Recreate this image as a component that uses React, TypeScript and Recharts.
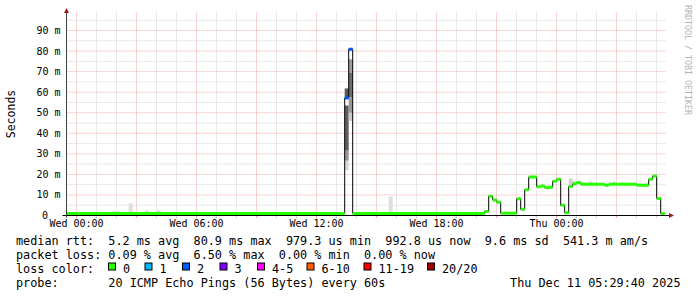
import React from 'react';
import { ComposedChart, Line, XAxis, YAxis, CartesianGrid, ReferenceArea } from 'recharts';

// x values are hours since Wed 00:00, y values are milliseconds
// median rtt steps, one entry per change (bins are 12 min wide)
const stepStart = [
  -0.5, 13.41, 13.61, 13.81, 20.41, 20.61, 20.81, 21.01, 21.21, 22.01, 22.21,
  22.41, 22.61, 23.01, 23.21, 23.41, 23.61, 23.81, 24.01, 24.21, 24.41, 24.61,
  24.81, 25.01, 25.21, 26.41, 26.61, 28.01, 28.61, 28.81, 29.01, 29.21,
];
const medianMs = [
  1.0, 57.2, 80.9, 1.0, 2.0, 9.4, 7.6, 6.5, 1.1, 8.1, 3.0,
  12.5, 18.7, 14.0, 14.3, 13.5, 13.8, 16.7, 17.6, 5.0, 1.3, 14.1,
  15.4, 16.1, 15.2, 14.7, 15.2, 14.7, 17.6, 19.2, 8.3, 0.9928,
];
// index into lossLabels for each step
const lossLevel = [
  0, 2, 2, 0, 0, 0, 0, 0, 0, 0, 0,
  0, 0, 0, 0, 0, 0, 0, 0, 0, 0, 0,
  0, 0, 0, 0, 0, 0, 0, 0, 0, 0,
];
const lastSample = 29.41;

// smoke bands: from, to, low, high, ping density (0..1)
const smokeFrom = [1.81, 2.61, 3.41, 4.01, 15.61, 13.41, 13.41, 13.41, 13.41, 13.61, 13.61, 13.61, 13.61, 24.61, 24.81, 25.21, 25.61, 26.81, 27.21, 28.41];
const smokeTo = [2.21, 2.81, 3.61, 4.21, 15.81, 13.61, 13.61, 13.61, 13.61, 13.81, 13.81, 13.81, 13.81, 24.81, 25.01, 25.41, 25.81, 27.01, 27.41, 28.61];
const smokeLow = [1.0, 1.0, 1.0, 1.0, 1.0, 22.0, 26.7, 31.6, 57.5, 46.0, 50.0, 57.5, 69.6, 14.0, 15.0, 15.0, 15.0, 15.0, 15.0, 14.5];
const smokeHigh = [2.1, 5.9, 2.6, 2.6, 9.2, 26.7, 31.6, 53.5, 61.8, 50.0, 57.5, 69.6, 76.0, 18.0, 17.0, 16.2, 16.5, 16.5, 16.2, 15.9];
const smokeDensity = [0, 0, 0, 0, 0, 0.05, 0.5, 0.9, 0.95, 0.15, 0.5, 0.8, 0.45, 0.1, 0, 0, 0, 0, 0, 0];

const lossLabels = ['0', '1', '2', '3', '4-5', '6-10', '11-19', '20/20'];
const lossColors = ['#26ff00', '#00b8ff', '#0059ff', '#7e00ff', '#ff00ff', '#ff5e00', '#ff0000', '#a10000'];

const yTicks = [0, 10, 20, 30, 40, 50, 60, 70, 80, 90];
const yMinor = [5, 15, 25, 35, 45, 55, 65, 75, 85, 95];
const hours = Array.from({ length: 30 }, (_, i) => i);
const hourMajor = hours.filter((h) => h % 3 === 0);
const hourMinor = hours.filter((h) => h % 3 !== 0);
const dayNames = ['Wed', 'Thu'];

const statsLine = 'median rtt:  5.2 ms avg  80.9 ms max  979.3 us min  992.8 us now  9.6 ms sd  541.3 m am/s';
const lossLine = 'packet loss: 0.09 % avg  6.50 % max  0.00 % min  0.00 % now';
const probeLine = 'probe:       20 ICMP Echo Pings (56 Bytes) every 60s';
const stampText = 'Thu Dec 11 05:29:40 2025';

const legendBoxX = [108.5, 145, 182.5, 220, 257.5, 307, 364, 427.5];

const MONO = '"DejaVu Sans Mono", monospace';
const GRID = '#d2d2d2';
const MGRID = '#f0a8a8';
const PRE = { whiteSpace: 'pre' as const };

const stepData = [
  ...stepStart.map((h, i) => ({ h, v: medianMs[i] })),
  { h: lastSample, v: medianMs[medianMs.length - 1] },
];

// horizontal pieces coloured by loss, broken by nulls so no vertical joins
const levelData = (lvl: number) => {
  const pts: { h: number; v: number | null }[] = [];
  stepStart.forEach((s, i) => {
    if (lossLevel[i] !== lvl) return;
    const e = i + 1 < stepStart.length ? stepStart[i + 1] : lastSample;
    pts.push({ h: s, v: medianMs[i] }, { h: e, v: medianMs[i] }, { h: e, v: null });
  });
  return pts;
};
const usedLevels = Array.from(new Set(lossLevel));

const smokeFill = (d: number) => {
  const g = Math.round(222 - 140 * d);
  return `rgb(${g},${g},${g})`;
};

const YTick = (props: any) => {
  const { y, payload } = props;
  const v = payload.value;
  return (
    <text x={v === 0 ? 48 : 60.5} y={y + 3.5} textAnchor="end" fontFamily={MONO} fontSize={10} fill="#000">
      {v === 0 ? '0' : `${v} m`}
    </text>
  );
};

const XTick = (props: any) => {
  const { x, payload } = props;
  const h = payload.value;
  return (
    <g>
      <line x1={x} x2={x} y1={216} y2={218} stroke={h % 3 === 0 ? MGRID : GRID} />
      {h % 6 === 0 && (
        <text x={x} y={227} textAnchor="middle" fontFamily={MONO} fontSize={10} fill="#000">
          {`${dayNames[Math.floor(h / 24)]} ${String(h % 24).padStart(2, '0')}:00`}
        </text>
      )}
    </g>
  );
};

export default function App() {
  return (
    <div style={{ position: 'relative', width: 697, height: 297, background: '#fff' }}>
      <style>{'body{margin:0}'}</style>
      <ComposedChart width={697} height={297} margin={{ top: 12.5, right: 30.5, bottom: 51.5, left: 0.5 }}>
        <CartesianGrid horizontalValues={yMinor} verticalValues={hourMinor} stroke={GRID} strokeDasharray="1 1" />
        <CartesianGrid horizontalValues={yTicks} verticalValues={hourMajor} stroke={MGRID} strokeDasharray="1 1" />
        <XAxis
          type="number"
          dataKey="h"
          domain={[-0.5, 29.5]}
          ticks={hours}
          interval={0}
          allowDataOverflow
          height={30}
          tickLine={false}
          axisLine={{ stroke: '#000' }}
          tick={<XTick />}
        />
        <YAxis
          type="number"
          domain={[0, 98.75]}
          ticks={yTicks}
          interval={0}
          allowDataOverflow
          width={66}
          tickLine={false}
          axisLine={{ stroke: '#404040' }}
          tick={<YTick />}
        />
        {smokeFrom.map((f, i) => (
          <ReferenceArea
            key={`smoke-${i}`}
            x1={f}
            x2={smokeTo[i]}
            y1={smokeLow[i]}
            y2={smokeHigh[i]}
            fill={smokeFill(smokeDensity[i])}
            fillOpacity={1}
            stroke="none"
          />
        ))}
        <Line
          data={stepData}
          dataKey="v"
          type="stepAfter"
          stroke="#000"
          strokeWidth={1}
          dot={false}
          activeDot={false}
          isAnimationActive={false}
        />
        {usedLevels.map((lvl) => (
          <Line
            key={`loss-${lvl}`}
            data={levelData(lvl)}
            dataKey="v"
            type="linear"
            stroke={lossColors[lvl]}
            strokeWidth={3}
            connectNulls={false}
            dot={false}
            activeDot={false}
            isAnimationActive={false}
          />
        ))}
      </ComposedChart>
      <svg width={697} height={297} style={{ position: 'absolute', left: 0, top: 0, pointerEvents: 'none' }}>
        {/* axis extensions and arrows */}
        <line x1={62.5} x2={669} y1={215.5} y2={215.5} stroke="#000" />
        <line x1={66.5} x2={66.5} y1={13} y2={217.5} stroke="#404040" />
        <polygon points="64,13 69,13 66.5,8" fill="#9b1b1b" />
        <polygon points="669,213 669,218 674,215.5" fill="#9b1b1b" />
        <text transform="translate(15,114) rotate(-90)" textAnchor="middle" fontFamily={MONO} fontSize={11.5} fill="#000">
          Seconds
        </text>
        <text transform="translate(685,5) rotate(90)" fontFamily={MONO} fontSize={8.3} fill="#b4b4b4">
          RRDTOOL / TOBI OETIKER
        </text>
        <g fontFamily={MONO} fontSize={11.8} fill="#000">
          <text x={16} y={245} xmlSpace="preserve" style={PRE}>{statsLine}</text>
          <text x={16} y={259} xmlSpace="preserve" style={PRE}>{lossLine}</text>
          <text x={16} y={272.5}>loss color:</text>
          {lossLabels.map((lab, i) => (
            <g key={lab}>
              <rect x={legendBoxX[i]} y={263} width={7} height={7} fill={lossColors[i]} stroke="#000" />
              <text x={legendBoxX[i] + 14.5} y={272.5}>{lab}</text>
            </g>
          ))}
          <text x={16} y={287} xmlSpace="preserve" style={PRE}>{probeLine}</text>
          <text x={680.5} y={287} textAnchor="end">{stampText}</text>
        </g>
      </svg>
    </div>
  );
}
